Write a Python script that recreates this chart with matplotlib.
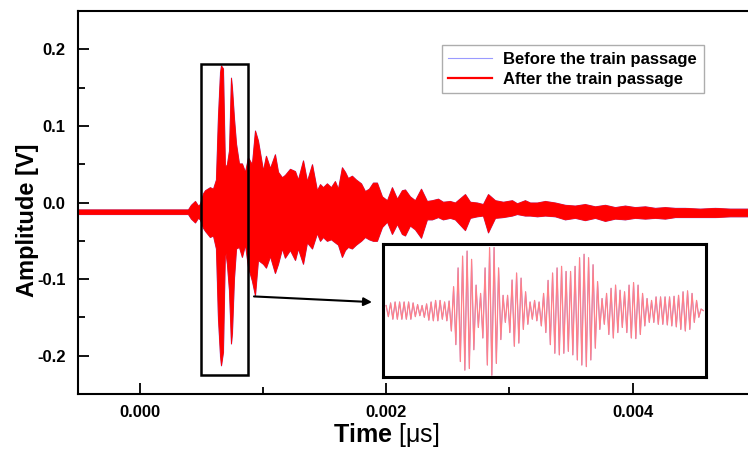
import numpy as np
import matplotlib
matplotlib.use("Agg")
import matplotlib.pyplot as plt
from matplotlib.lines import Line2D
from matplotlib.ticker import MultipleLocator

plt.rcParams["font.family"] = ["Liberation Sans", "DejaVu Sans"]
plt.rcParams["mathtext.fontset"] = "custom"
plt.rcParams["mathtext.bf"] = "Liberation Sans:bold"
plt.rcParams["mathtext.rm"] = "Liberation Sans"

# ── main trace: envelope of the received signal ─────────────────────────────
main_time = [
    -0.000503, -0.000162, 0.000162, 0.000390, 0.000414, 0.000447, 0.000471,
    0.000487, 0.000512, 0.000528, 0.000568, 0.000593, 0.000617, 0.000633,
    0.000650, 0.000658, 0.000674, 0.000690, 0.000706, 0.000723, 0.000739,
    0.000747, 0.000763, 0.000780, 0.000804, 0.000828, 0.000853, 0.000877,
    0.000909, 0.000934, 0.000958, 0.000999, 0.001023, 0.001056, 0.001096,
    0.001121, 0.001153, 0.001177, 0.001218, 0.001259, 0.001283, 0.001324,
    0.001356, 0.001397, 0.001437, 0.001462, 0.001486, 0.001518, 0.001551,
    0.001583, 0.001608, 0.001640, 0.001665, 0.001689, 0.001721, 0.001754,
    0.001795, 0.001827, 0.001859, 0.001892, 0.001924, 0.001965, 0.002006,
    0.002046, 0.002087, 0.002127, 0.002152, 0.002192, 0.002233, 0.002282,
    0.002330, 0.002371, 0.002420, 0.002460, 0.002517, 0.002558, 0.002639,
    0.002680, 0.002736, 0.002785, 0.002826, 0.002883, 0.002948, 0.003021,
    0.003061, 0.003126, 0.003167, 0.003224, 0.003289, 0.003370, 0.003451,
    0.003532, 0.003613, 0.003695, 0.003776, 0.003857, 0.003938, 0.004019,
    0.004101, 0.004182, 0.004263, 0.004344, 0.004425, 0.004547, 0.004669,
    0.004791, 0.004937,
]
main_upper = [
    -0.009, -0.009, -0.009, -0.009, -0.003, 0.002, -0.004,
    -0.002, 0.012, 0.016, 0.020, 0.018, 0.030, 0.111,
    0.170, 0.179, 0.175, 0.046, 0.050, 0.068, 0.163,
    0.150, 0.111, 0.077, 0.051, 0.051, 0.040, 0.059,
    0.050, 0.094, 0.081, 0.042, 0.061, 0.045, 0.063,
    0.040, 0.033, 0.036, 0.044, 0.041, 0.030, 0.055,
    0.028, 0.050, 0.016, 0.024, 0.020, 0.025, 0.020,
    0.028, 0.018, 0.046, 0.040, 0.032, 0.035, 0.030,
    0.025, 0.015, 0.018, 0.026, 0.026, 0.008, 0.003,
    0.020, 0.005, 0.016, 0.017, 0.008, 0.003, 0.018,
    0.002, 0.003, 0.005, 0.001, 0.002, 0.000, 0.011,
    0.001, 0.000, -0.002, 0.011, 0.003, 0.001, 0.003,
    -0.001, 0.003, 0.000, 0.000, 0.002, 0.000, -0.003,
    -0.004, -0.002, -0.005, -0.003, -0.006, -0.004, -0.006,
    -0.005, -0.007, -0.006, -0.007, -0.007, -0.008, -0.007,
    -0.008, -0.008,
]
main_lower = [
    -0.015, -0.015, -0.015, -0.015, -0.021, -0.026, -0.020,
    -0.022, -0.033, -0.037, -0.045, -0.043, -0.060, -0.150,
    -0.200, -0.2125, -0.195, -0.060, -0.080, -0.115, -0.184,
    -0.170, -0.100, -0.060, -0.058, -0.071, -0.055, -0.084,
    -0.102, -0.121, -0.075, -0.080, -0.085, -0.070, -0.092,
    -0.080, -0.060, -0.072, -0.062, -0.075, -0.060, -0.080,
    -0.052, -0.060, -0.040, -0.050, -0.045, -0.050, -0.048,
    -0.052, -0.055, -0.071, -0.062, -0.058, -0.060, -0.055,
    -0.050, -0.045, -0.048, -0.050, -0.050, -0.032, -0.025,
    -0.041, -0.028, -0.041, -0.043, -0.030, -0.035, -0.046,
    -0.022, -0.022, -0.019, -0.022, -0.020, -0.022, -0.036,
    -0.020, -0.018, -0.017, -0.039, -0.020, -0.019, -0.017,
    -0.015, -0.017, -0.017, -0.018, -0.017, -0.018, -0.022,
    -0.020, -0.023, -0.020, -0.024, -0.021, -0.022, -0.020,
    -0.021, -0.020, -0.021, -0.019, -0.019, -0.019, -0.019,
    -0.018, -0.018,
]

# ── inset: successive crests / troughs of the boxed burst [V] ──────────────
inset_tops = [
    0.002, 0.010, 0.013, 0.013, 0.013, 0.013, 0.010, 0.005, 0.002, 0.007,
    0.013, 0.018, 0.018, 0.013, 0.016, 0.061, 0.120, 0.157, 0.173, 0.147,
    0.066, 0.040, 0.120, 0.184, 0.184, 0.120, 0.034, 0.034, 0.082, 0.104,
    0.088, 0.045, 0.013, 0.018, 0.013, 0.040, 0.081, 0.104, 0.120, 0.125,
    0.109, 0.109, 0.125, 0.152, 0.163, 0.152, 0.130, 0.077, 0.024, 0.040,
    0.056, 0.066, 0.050, 0.045, 0.066, 0.074, 0.066, 0.040, 0.024, 0.018,
    0.029, 0.029, 0.029, 0.029, 0.031, 0.034, 0.045, 0.048, 0.040, 0.018,
    -0.009,
]
inset_bottoms = [
    -0.033, -0.041, -0.041, -0.041, -0.041, -0.041, -0.033, -0.030, -0.035, -0.044,
    -0.046, -0.046, -0.041, -0.046, -0.078, -0.121, -0.174, -0.201, -0.196, -0.137,
    -0.067, -0.100, -0.185, -0.217, -0.180, -0.105, -0.051, -0.083, -0.126, -0.116,
    -0.073, -0.057, -0.041, -0.046, -0.062, -0.083, -0.121, -0.148, -0.153, -0.148,
    -0.142, -0.153, -0.169, -0.185, -0.190, -0.169, -0.132, -0.073, -0.057, -0.089,
    -0.100, -0.083, -0.067, -0.083, -0.100, -0.102, -0.089, -0.062, -0.051, -0.051,
    -0.057, -0.057, -0.059, -0.062, -0.065, -0.073, -0.078, -0.073, -0.051, -0.035,
    -0.014,
]

legend_labels = ["Before the train passage", "After the train passage"]
RED = "#ff0000"
BLUE = "#9a9aff"

fig = plt.figure(figsize=(7.48, 4.5), dpi=100)
ax = fig.add_axes([0.1043, 0.1244, 0.8957, 0.8511])

# "before" sits underneath and is almost completely hidden by "after"
ax.fill_between(main_time, main_lower, main_upper, color=BLUE, lw=0.9)
ax.fill_between(main_time, main_lower, main_upper, color=RED, lw=0.6)

ax.set_xlim(-0.000503, 0.004937)
ax.set_ylim(-0.25, 0.25)
ax.xaxis.set_major_locator(MultipleLocator(0.002))
ax.xaxis.set_minor_locator(MultipleLocator(0.001))
ax.yaxis.set_major_locator(MultipleLocator(0.1))
ax.yaxis.set_minor_locator(MultipleLocator(0.05))
ax.xaxis.set_major_formatter(plt.FormatStrFormatter("%.3f"))
ax.yaxis.set_major_formatter(plt.FormatStrFormatter("%.1f"))
ax.tick_params(which="both", direction="in", width=1.3, top=False, right=False)
ax.tick_params(which="major", length=8, labelsize=12)
ax.tick_params(axis="x", which="major", pad=8)
ax.tick_params(axis="y", which="major", pad=9)
ax.tick_params(which="minor", length=5)
for lab in ax.get_xticklabels() + ax.get_yticklabels():
    lab.set_fontweight("bold")
for s in ("left", "bottom", "top"):
    ax.spines[s].set_linewidth(1.5)
ax.spines["right"].set_visible(False)

ax.set_xlabel(r"$\mathbf{Time}$ [μs]", fontsize=18)
ax.set_ylabel("Amplitude [V]", fontsize=17, fontweight="bold")
ax.xaxis.set_label_coords(0.46, -0.07)
ax.yaxis.set_label_coords(-0.058, 0.454)

# box around the first arrival and arrow to the zoomed view
ax.add_patch(plt.Rectangle((0.000493, -0.2256), 0.000879 - 0.000493,
                           0.1808 + 0.2256, fill=False, ec="black", lw=1.8))
ax.annotate("", xy=(0.001884, -0.130), xytext=(0.000926, -0.1226),
            arrowprops=dict(arrowstyle="-|>", color="black", lw=1.5,
                            mutation_scale=12, shrinkA=0, shrinkB=0))

handles = [Line2D([], [], color=BLUE, lw=0.8),
           Line2D([], [], color=RED, lw=1.6)]
leg = ax.legend(handles, legend_labels, loc="upper right",
                bbox_to_anchor=(0.934, 0.911), frameon=True,
                prop={"size": 12, "weight": "bold"},
                fancybox=False, handlelength=2.6, borderpad=0.4,
                labelspacing=0.3, handletextpad=0.7, borderaxespad=0)
leg.get_frame().set_edgecolor("#999999")
leg.get_frame().set_linewidth(1.0)

# zoomed inset
ins = ax.inset_axes([0.001973, -0.2282, 0.004596 - 0.001973, 0.1734],
                    transform=ax.transData)
wave = np.column_stack([inset_tops, inset_bottoms]).ravel()
idx = np.arange(len(wave))
ins.plot(idx, wave, color="#7a7aff", lw=0.6)
ins.plot(idx, wave, color="#ff8088", lw=0.9)
ins.set_xlim(-1.4, len(wave) + 0.2)
ins.set_ylim(-0.2236, 0.1936)
ins.set_xticks([])
ins.set_yticks([])
for s in ins.spines.values():
    s.set_linewidth(2.2)

fig.savefig("out.png", dpi=100)
